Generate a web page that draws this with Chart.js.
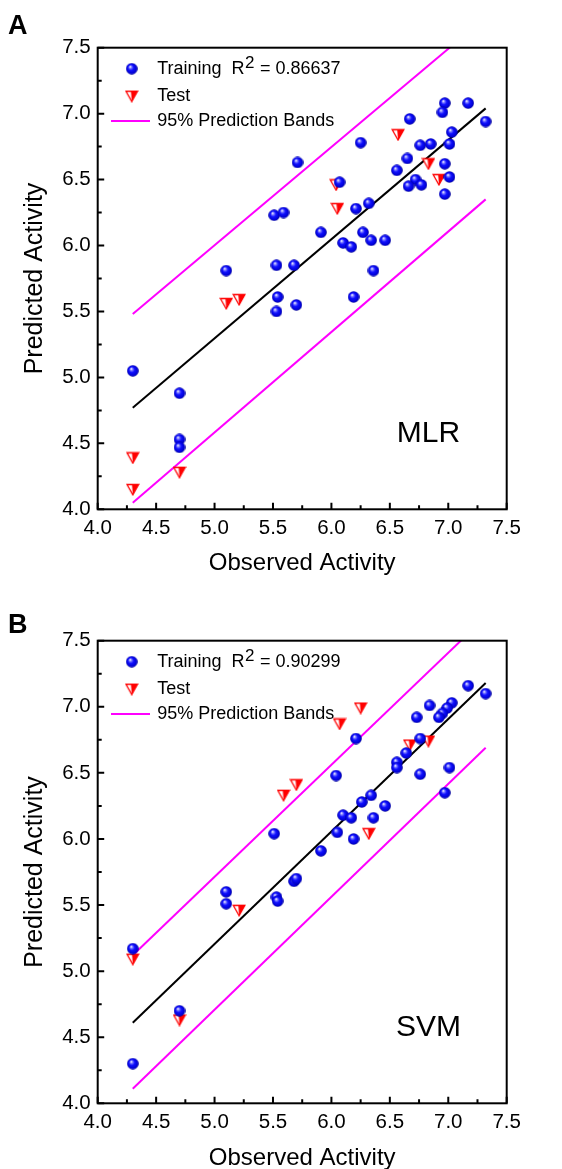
<!DOCTYPE html>
<html>
<head>
<meta charset="utf-8">
<script src="https://cdn.jsdelivr.net/npm/chart.js@4.4.1/dist/chart.umd.min.js"></script>
<style>
  html, body { margin: 0; padding: 0; background: #fff; overflow: hidden; }
  body { width: 562px; height: 1169px; position: relative; }
  canvas { position: absolute; left: 0; }
  #chartA { top: 0; }
  #chartB { top: 593px; }
</style>
</head>
<body>
<canvas id="chartA" width="562" height="578"></canvas>
<canvas id="chartB" width="562" height="580"></canvas>
<script>
    /* Axis ticks (same on both axes) */

var axisTicks = [4.0, 4.5, 5.0, 5.5, 6.0, 6.5, 7.0, 7.5];

    /* MLR: observed vs predicted */

var mlrTrainObs  = [5.71, 6.25, 6.67, 6.97, 6.95, 7.17, 7.32, 7.03, 7.01, 6.85, 6.76, 6.65, 6.56, 6.97,
                    7.01, 6.97, 6.72, 6.66, 6.77, 6.07, 6.32, 6.21, 5.51, 5.59, 5.91, 6.27, 6.10, 6.17,
                    6.34, 6.46, 5.10, 5.53, 5.68, 6.36, 5.54, 5.53, 5.70, 6.19, 4.30, 4.70, 4.70, 4.70];
var mlrTrainPred = [6.63, 6.78, 6.96, 7.08, 7.01, 7.08, 6.94, 6.86, 6.77, 6.77, 6.76, 6.66, 6.57, 6.62,
                    6.52, 6.39, 6.50, 6.45, 6.46, 6.48, 6.32, 6.28, 6.23, 6.25, 6.10, 6.10, 6.02, 5.99,
                    6.04, 6.04, 5.81, 5.85, 5.85, 5.81, 5.61, 5.50, 5.55, 5.61, 5.05, 4.88, 4.53, 4.47];
var mlrTestObs   = [6.57, 6.83, 6.92, 6.04, 6.05, 5.10, 5.21, 4.30, 4.30, 4.70];
var mlrTestPred  = [6.84, 6.62, 6.50, 6.46, 6.28, 5.56, 5.59, 4.39, 4.15, 4.28];
var mlrFitY      = [4.77, 7.04];
var mlrUpperY    = [5.48, 7.73];
var mlrLowerY    = [4.05, 6.35];

    /* SVM: observed vs predicted */

var svmTrainObs  = [7.17, 7.32, 6.84, 7.03, 6.99, 6.95, 6.92, 6.73, 6.76, 6.21, 6.64, 6.56, 6.56, 6.76,
                    7.01, 6.97, 6.04, 6.34, 6.26, 6.46, 6.10, 6.17, 6.36, 6.05, 6.19, 5.51, 5.91, 5.68,
                    5.70, 5.10, 5.10, 5.53, 5.54, 4.30, 4.70, 4.30];
var svmTrainPred = [7.16, 7.10, 7.01, 7.03, 6.99, 6.95, 6.92, 6.92, 6.76, 6.76, 6.65, 6.58, 6.54, 6.49,
                    6.54, 6.35, 6.48, 6.33, 6.28, 6.25, 6.18, 6.16, 6.16, 6.05, 6.00, 6.04, 5.91, 5.68,
                    5.70, 5.60, 5.51, 5.56, 5.53, 5.17, 4.70, 4.30];
var svmTestObs   = [6.25, 6.07, 5.70, 5.59, 6.67, 6.83, 6.32, 5.21, 4.30, 4.70];
var svmTestPred  = [6.99, 6.87, 6.41, 6.33, 6.71, 6.74, 6.04, 5.46, 5.09, 4.63];
var svmFitY      = [4.61, 7.18];
var svmUpperY    = [5.12, 7.68];
var svmLowerY    = [4.11, 6.69];

    /* Shared x range of the fit lines and bands */

var fitX = [4.30, 7.32];

    /* Texts */

var panelLetters = ['A', 'B'];
var modelNames = ['MLR', 'SVM'];
var r2Values = ['0.86637', '0.90299'];
var legendLabels = ['Training', 'Test', '95% Prediction Bands'];
var xTitle = 'Observed Activity';
var yTitle = 'Predicted Activity';

var family = 'Arial, "Liberation Sans", Helvetica, sans-serif';
Chart.defaults.font.family = family;
Chart.defaults.color = '#000';

function pairs(xs, ys) {
    return xs.map(function (x, i) { return { x: x, y: ys[i] }; });
}

    /* Marker images */

function makeBall() {
    var c = document.createElement('canvas');
    c.width = 12; c.height = 12;
    var g = c.getContext('2d');
    var grad = g.createRadialGradient(4.3, 3.9, 0.2, 6, 6, 6);
    grad.addColorStop(0, '#ffffff');
    grad.addColorStop(0.2, '#7c7cff');
    grad.addColorStop(0.45, '#1010ff');
    grad.addColorStop(0.85, '#0000d0');
    grad.addColorStop(1, '#000080');
    g.fillStyle = grad;
    g.beginPath();
    g.arc(6, 6, 5.8, 0, Math.PI * 2);
    g.fill();
    return c;
}

function makeTri() {
    var c = document.createElement('canvas');
    c.width = 14; c.height = 13;
    var g = c.getContext('2d');
    g.fillStyle = '#fff';
    g.beginPath(); g.moveTo(1.2, 1.5); g.lineTo(12.8, 1.5); g.lineTo(7, 11.8); g.closePath(); g.fill();
    g.fillStyle = '#ff0000';
    g.beginPath(); g.moveTo(6.2, 1.5); g.lineTo(12.8, 1.5); g.lineTo(7, 11.8); g.closePath(); g.fill();
    g.strokeStyle = '#ff0000';
    g.lineWidth = 1.3;
    g.beginPath(); g.moveTo(1.2, 1.5); g.lineTo(12.8, 1.5); g.lineTo(7, 11.8); g.closePath(); g.stroke();
    return c;
}

var ball = makeBall();
var tri = makeTri();

    /* Ticks: labelled majors + unlabelled minors halfway */

function setTicks(scale) {
    var t = [];
    axisTicks.forEach(function (v, i) {
        t.push({ value: v });
        if (i < axisTicks.length - 1) t.push({ value: (v + axisTicks[i + 1]) / 2, minor: true });
    });
    scale.ticks = t;
}

function tickLabel(value, index, ticks) {
    return ticks[index].minor ? '' : value.toFixed(1);
}

    /* Box, inward ticks, legend, model name, panel letter */

var framePlugin = {
    id: 'frame',
    afterDraw: function (chart, args, o) {
        var ctx = chart.ctx, a = chart.chartArea;
        var x = chart.scales.x, y = chart.scales.y;
        ctx.save();
        ctx.strokeStyle = '#000';
        ctx.lineWidth = 2;
        ctx.beginPath();
        x.ticks.forEach(function (t) {
            var px = x.getPixelForValue(t.value);
            ctx.moveTo(px, a.bottom);
            ctx.lineTo(px, a.bottom - (t.minor ? 4 : 6.5));
        });
        y.ticks.forEach(function (t) {
            var py = y.getPixelForValue(t.value);
            ctx.moveTo(a.left, py);
            ctx.lineTo(a.left + (t.minor ? 4 : 6.5), py);
        });
        ctx.stroke();
        ctx.strokeRect(a.left, a.top, a.right - a.left, a.bottom - a.top);

        // panel letter
        ctx.fillStyle = '#000';
        ctx.font = 'bold 27px ' + family;
        ctx.textAlign = 'left';
        ctx.textBaseline = 'alphabetic';
        ctx.fillText(o.letter, 8, o.letterBase);

        // model name
        ctx.font = '30px ' + family;
        ctx.textAlign = 'center';
        ctx.textBaseline = 'middle';
        ctx.fillText(o.model, x.getPixelForValue(6.83), y.getPixelForValue(4.57));

        // legend
        var ds = chart.data.datasets;
        var sx = a.left + 34, tx = a.left + 59.5;
        var rows = [a.top + 21, a.top + 48.5, a.top + 73.3];
        ctx.textAlign = 'left';
        ctx.font = '18px ' + family;
        ctx.drawImage(ds[0].pointStyle, sx - 6, rows[0] - 6);
        var s1 = legendLabels[0] + '  R';
        ctx.fillText(s1, tx, rows[0]);
        var w1 = ctx.measureText(s1).width;
        ctx.font = '17px ' + family;
        ctx.fillText('2', tx + w1 + 0.5, rows[0] - 5.5);
        var w2 = ctx.measureText('2').width;
        ctx.font = '18px ' + family;
        ctx.fillText(' = ' + o.r2, tx + w1 + w2 + 1, rows[0]);

        ctx.drawImage(ds[1].pointStyle, sx - 7, rows[1] - 6.5);
        ctx.fillText(legendLabels[1], tx, rows[1]);

        ctx.strokeStyle = ds[3].borderColor;
        ctx.lineWidth = 2;
        ctx.beginPath();
        ctx.moveTo(a.left + 13.3, rows[2]);
        ctx.lineTo(a.left + 52.3, rows[2]);
        ctx.stroke();
        ctx.fillText(legendLabels[2], tx, rows[2]);
        ctx.restore();
    }
};

function buildChart(id, k, trainObs, trainPred, testObs, testPred, fitY, upperY, lowerY, letterBase, xHeight) {
    return new Chart(document.getElementById(id), {
        type: 'scatter',
        data: {
            datasets: [{
                label: legendLabels[0],
                data: pairs(trainObs, trainPred),
                pointStyle: ball,
                pointRadius: 6
            }, {
                label: legendLabels[1],
                data: pairs(testObs, testPred),
                pointStyle: tri,
                pointRadius: 6
            }, {
                type: 'line',
                data: pairs(fitX, fitY),
                borderColor: '#000',
                borderWidth: 2,
                pointRadius: 0
            }, {
                type: 'line',
                label: legendLabels[2],
                data: pairs(fitX, upperY),
                borderColor: '#ff00ff',
                borderWidth: 2,
                pointRadius: 0
            }, {
                type: 'line',
                data: pairs(fitX, lowerY),
                borderColor: '#ff00ff',
                borderWidth: 2,
                pointRadius: 0
            }]
        },
        options: {
            responsive: false,
            animation: false,
            devicePixelRatio: 1,
            layout: { padding: { left: 20, top: 47.7, right: 55.3, bottom: 0 } },
            plugins: {
                legend: { display: false },
                tooltip: { enabled: false },
                frame: { letter: panelLetters[k], model: modelNames[k], r2: r2Values[k], letterBase: letterBase }
            },
            scales: {
                x: {
                    type: 'linear',
                    min: 4, max: 7.5,
                    afterBuildTicks: setTicks,
                    afterFit: function (s) { s.height = xHeight; },
                    grid: { display: false, drawTicks: false, tickLength: 0 },
                    border: { display: false },
                    ticks: { autoSkip: false, maxRotation: 0, padding: 6.5, font: { size: 20.5 }, callback: tickLabel },
                    title: { display: true, text: xTitle, font: { size: 24 }, padding: 0 }
                },
                y: {
                    type: 'linear',
                    min: 4, max: 7.5,
                    afterBuildTicks: setTicks,
                    afterFit: function (s) { s.width = 77.7; },
                    grid: { display: false, drawTicks: false, tickLength: 0 },
                    border: { display: false },
                    ticks: { autoSkip: false, padding: 7, font: { size: 20.5 }, callback: tickLabel },
                    title: { display: true, text: yTitle, font: { size: 25 }, padding: 0 }
                }
            }
        },
        plugins: [framePlugin]
    });
}

buildChart('chartA', 0, mlrTrainObs, mlrTrainPred, mlrTestObs, mlrTestPred, mlrFitY, mlrUpperY, mlrLowerY, 34.3, 68.7);
buildChart('chartB', 1, svmTrainObs, svmTrainPred, svmTestObs, svmTestPred, svmFitY, svmUpperY, svmLowerY, 40.3, 69.7);
</script>
</body>
</html>
